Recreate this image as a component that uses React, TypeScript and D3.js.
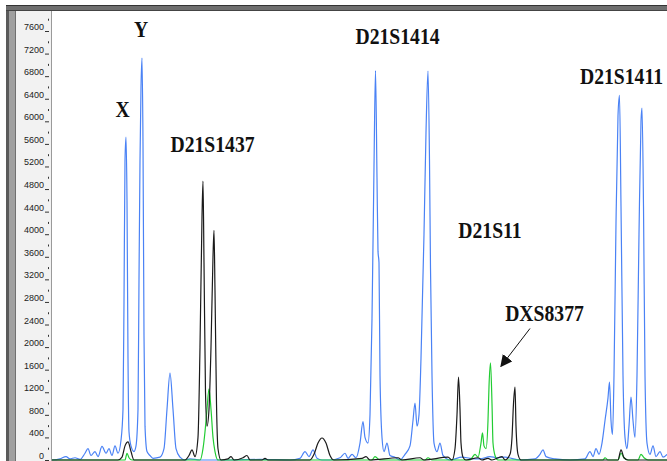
import React from 'react';
import * as d3 from 'd3';

// scan position (0..615) vs. signal (RFU)
const blueTrace: [number, number][] = [
  [0, 0], [8, 20], [14, 60], [18, 20], [23, 40], [28, 10], [33, 120], [36, 200], [39, 80], [43, 150], [46, 60],
  [50, 240], [54, 120], [57, 200], [60, 80], [63, 250], [66, 120], [69, 350], [71, 900], [72, 2800], [73, 5300],
  [74, 5720], [75, 4600], [76, 1800], [77, 500], [79, 250], [82, 150], [84, 250], [86, 900], [87, 3200], [88, 5300],
  [89, 6600], [90, 7120], [91, 5600], [92, 2200], [93, 600], [95, 150], [98, 80], [101, 30], [108, 50], [112, 200],
  [115, 900], [118, 1540], [121, 900], [124, 200], [128, 50], [133, 0], [138, 20], [148, 0], [178, 0], [208, 10],
  [238, 0], [248, 30], [253, 150], [257, 60], [261, 180], [265, 30], [270, 0], [278, 0], [288, 40], [293, 120],
  [296, 30], [300, 100], [304, 40], [308, 300], [311, 680], [313, 400], [316, 300], [318, 800], [320, 2500],
  [322, 5200], [323.5, 6900], [325, 5000], [326, 3700], [327, 3500], [328, 1500], [330, 400], [332, 150], [335, 300],
  [338, 80], [343, 50], [348, 0], [353, 100], [358, 250], [361, 700], [363, 1010], [365, 600], [367, 800],
  [369, 1800], [372, 4000], [374, 5800], [376, 6890], [377.5, 5300], [378.5, 3400], [380, 1500], [382, 300],
  [385, 150], [388, 300], [391, 80], [398, 0], [410, 50], [418, 30], [428, 20], [438, 60], [445, 40], [453, 50],
  [468, 0], [483, 20], [488, 100], [491, 180], [494, 60], [503, 20], [518, 0], [533, 20], [538, 150], [541, 60],
  [544, 200], [547, 100], [550, 300], [553, 700], [556, 1100], [557.5, 1380], [559, 700], [560.5, 450], [562, 1500],
  [564, 4200], [566, 6100], [567.5, 6460], [569, 4500], [571, 1500], [573, 400], [575, 200], [577, 600], [579, 1115],
  [581, 700], [583, 400], [585, 1500], [587, 4000], [589, 6000], [590, 6235], [591.5, 4500], [593, 1500],
  [595, 300], [598, 100], [601, 250], [604, 60], [608, 150], [611, 50], [615, 100],
];

const blackTrace: [number, number][] = [
  [0, 0], [66, 0], [70, 50], [73, 250], [76, 320], [79, 150], [82, 0], [133, 0], [137, 80], [140, 180], [143, 60],
  [146, 400], [148, 2000], [150, 4300], [151, 4940], [152, 3500], [153.5, 1200], [155, 600], [157, 900], [159, 2000],
  [161, 3600], [162, 4070], [163, 3000], [164.5, 1000], [166, 200], [169, 0], [176, 20], [179, 60], [182, 0],
  [191, 40], [195, 80], [198, 0], [210, 0], [213, 30], [216, 0], [258, 0], [262, 100], [266, 300], [270, 390],
  [274, 300], [278, 80], [282, 0], [310, 30], [314, 60], [318, 0], [346, 40], [350, 0], [368, 40], [372, 0],
  [396, 50], [400, 0], [403, 200], [405, 800], [406.5, 1470], [408, 900], [409, 300], [411, 50], [414, 0],
  [426, 40], [430, 0], [436, 30], [440, 0], [450, 60], [453, 0], [458, 100], [460, 400], [461.5, 1000],
  [463, 1290], [464, 600], [466, 100], [469, 0], [566, 0], [569, 180], [572, 40], [576, 0], [615, 0],
];

const greenTrace: [number, number][] = [
  [0, 0], [73, 0], [75, 120], [77, 40], [80, 0], [148, 0], [151, 200], [153, 500], [155, 900], [157, 1260],
  [159, 900], [161, 400], [163, 150], [166, 0], [320, 0], [323, 60], [328, 0], [373, 0], [376, 40], [380, 0],
  [418, 0], [423, 100], [426, 50], [429, 300], [430.5, 480], [432, 250], [434, 200], [436, 700], [437, 1300],
  [438.5, 1720], [440, 1000], [441, 300], [443, 80], [446, 0], [551, 0], [553, 40], [556, 0], [566, 0],
  [569, 120], [572, 40], [576, 0], [586, 0], [589, 100], [592, 40], [596, 0], [615, 0],
];

const yTicks = d3.range(0, 7601, 400);

// locus labels: text, scan position of centre, RFU at baseline
const labelNames = ['X', 'Y', 'D21S1437', 'D21S1414', 'D21S11', 'DXS8377', 'D21S1411'];
const labelScan = [70.5, 89, 160.5, 345.5, 438, 492.5, 569.5];
const labelRfu = [6070, 7490, 5460, 7370, 3940, 2460, 6660];

const W = 667;
const H = 461;

export default function App() {
  const x = d3.scaleLinear().domain([0, 615]).range([52, 667]);
  const y = d3.scaleLinear().domain([0, 7600]).range([460, 31]);
  const line = d3
    .line<[number, number]>()
    .x((d) => x(d[0]))
    .y((d) => y(d[1]))
    .curve(d3.curveMonotoneX);

  return (
    <svg width={W} height={H} style={{ position: 'absolute', left: 0, top: 0, background: '#fff' }}>
      {/* frame */}
      <rect x={16} y={10} width={36} height={H - 10} fill="#f2f2f2" />
      <rect x={6} y={5} width={3} height={H - 5} fill="#5a5a5a" />
      <rect x={9} y={5} width={6} height={H - 5} fill="#a0a0a0" />
      <rect x={15} y={10} width={1} height={H - 10} fill="#707070" />
      <rect x={6} y={5} width={W - 6} height={6} fill="#6e6e6e" />
      <rect x={6} y={5} width={W - 6} height={1} fill="#333" />
      <rect x={6} y={10} width={W - 6} height={1} fill="#444" />
      <line x1={51.5} x2={51.5} y1={11} y2={H} stroke="#9a9a9a" />

      {/* y axis ticks */}
      {yTicks.map((t) => (
        <g key={t}>
          <text x={44} y={y(t) - 1} fontSize={9} fontFamily="Liberation Sans, Arial, sans-serif" textAnchor="end" fill="#222">
            {t}
          </text>
          <line x1={45} x2={49} y1={y(t) + 0.5} y2={y(t) + 0.5} stroke="#333" />
          <line x1={48.5} x2={48.5} y1={y(t + 200) - 1} y2={y(t + 200) + 1} stroke="#333" />
        </g>
      ))}

      {/* traces */}
      <path d={line(blueTrace) ?? ''} fill="none" stroke="#4a82f5" strokeWidth={1.2} />
      <path d={line(greenTrace) ?? ''} fill="none" stroke="#22cc33" strokeWidth={1.2} />
      <path d={line(blackTrace) ?? ''} fill="none" stroke="#1a1a1a" strokeWidth={1.2} />

      {/* locus labels, condensed serif */}
      {labelNames.map((n, i) => (
        <text
          key={n}
          transform={`translate(${x(labelScan[i])},${y(labelRfu[i])}) scale(0.82,1)`}
          textAnchor="middle"
          fontSize={24}
          fontWeight="bold"
          fontFamily="Liberation Serif, Times New Roman, serif"
          fill="#111"
        >
          {n}
        </text>
      ))}

      {/* arrow to DXS8377 */}
      <defs>
        <marker id="ah" viewBox="0 0 10 10" refX={9} refY={5} markerWidth={12} markerHeight={12} markerUnits="userSpaceOnUse" orient="auto">
          <path d="M0,0 L10,5 L0,10 z" fill="#111" />
        </marker>
      </defs>
      <line x1={x(478)} y1={y(2330)} x2={x(449)} y2={y(1660)} stroke="#111" strokeWidth={1} markerEnd="url(#ah)" />
    </svg>
  );
}
